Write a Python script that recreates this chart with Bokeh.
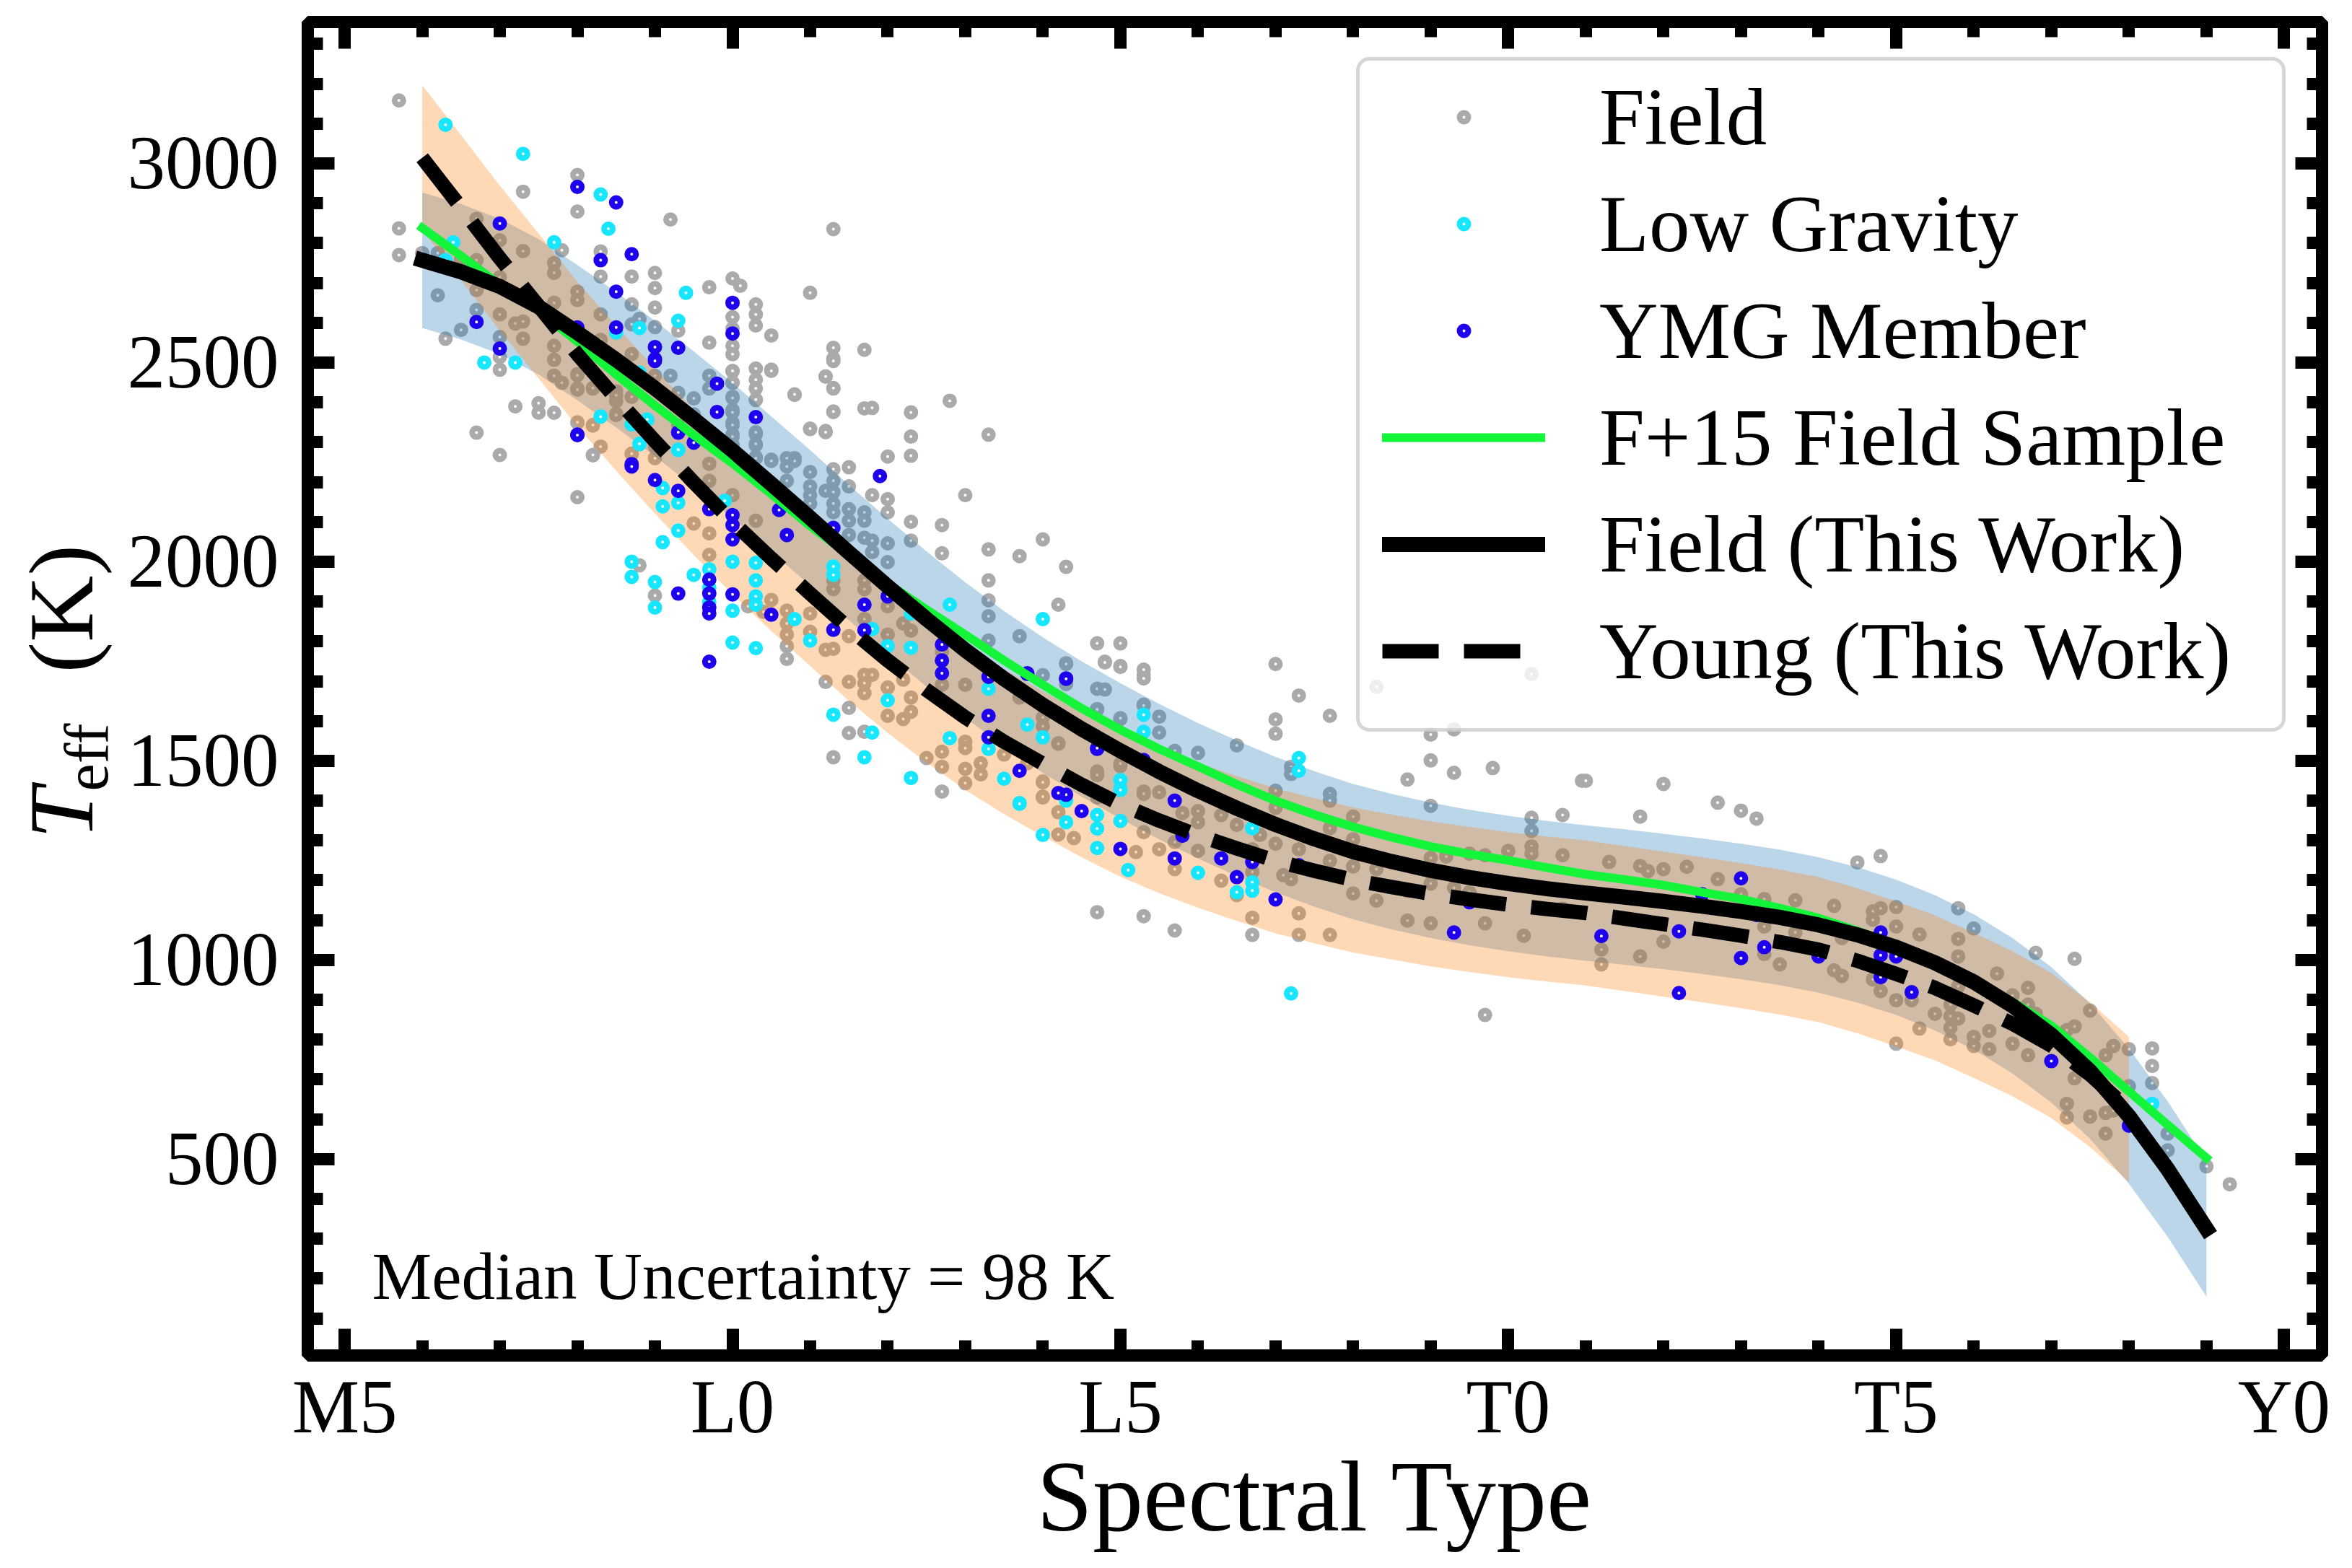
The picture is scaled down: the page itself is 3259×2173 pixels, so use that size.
from bokeh.plotting import figure
from bokeh.embed import file_html
from bokeh.resources import INLINE
from bokeh.layouts import row
from bokeh.models import (Range1d, LinearAxis, FixedTicker, Legend, LegendItem, Label, BoxAnnotation,
                          CustomJSTickFormatter)

# ---------- axes ----------
x_major = [5, 10, 15, 20, 25, 30]
x_tick_labels = ["M5", "L0", "L5", "T0", "T5", "Y0"]
x_minor = list(range(5, 31))
y_major = [500, 1000, 1500, 2000, 2500, 3000]
y_minor = list(range(100, 3400, 100))

# ---------- fitted curves ----------
curve_spt = [6, 6.5, 7, 7.5, 8, 8.5, 9, 9.5, 10, 10.5, 11, 11.5, 12, 12.5, 13, 13.5, 14, 14.5, 15, 15.5,
             16, 16.5, 17, 17.5, 18, 18.5, 19, 19.5, 20, 20.5, 21, 21.5, 22, 22.5, 23, 23.5, 24, 24.5,
             25, 25.5, 26, 26.5, 27, 27.5, 28, 28.5, 29]
field_teff = [2757, 2728, 2691, 2640, 2575, 2507, 2435, 2358, 2279, 2195, 2110, 2023, 1938, 1856, 1778, 1706,
              1640, 1580, 1525, 1473, 1425, 1381, 1340, 1304, 1272, 1247, 1225, 1207, 1192, 1179, 1168, 1158,
              1147, 1135, 1122, 1107, 1088, 1063, 1032, 993, 945, 885, 812, 721, 608, 475, 325]
f15_teff = [2838, 2768, 2695, 2630, 2553, 2470, 2392, 2318, 2247, 2170, 2090, 2017, 1945, 1880, 1817, 1752,
            1691, 1632, 1578, 1530, 1486, 1441, 1400, 1365, 1334, 1308, 1285, 1266, 1250, 1232, 1215, 1202,
            1188, 1170, 1153, 1130, 1105, 1073, 1038, 997, 950, 895, 835, 755, 670, 586, 503]
young_spt = curve_spt[:-2]
young_teff = [3014, 2889, 2762, 2642, 2521, 2410, 2303, 2199, 2100, 2008, 1920, 1833, 1752, 1678, 1609, 1548,
              1493, 1440, 1391, 1350, 1313, 1280, 1249, 1224, 1201, 1183, 1166, 1152, 1139, 1128, 1118, 1104,
              1090, 1076, 1061, 1045, 1026, 998, 965, 930, 886, 840, 785, 712, 625]
field_rms = 170
young_rms = 182

# ---------- points: (spectral type, [Teff ...]) ----------
field_points = [
    (5.7, [3158, 2837, 2770]), (6.0, [2775]), (6.2, [2775, 2669]), (6.3, [2560]), (6.5, [2582, 2757]),
    (6.7, [2861, 2757, 2682, 2632, 2324]), (7.0, [2807, 2714, 2621, 2564, 2514, 2482, 2268]),
    (7.2, [2598, 2390]), (7.3, [2929, 2780, 2603, 2560]), (7.5, [2398, 2374]),
    (7.7, [2750, 2725, 2650, 2542, 2507, 2467, 2374]), (7.8, [2782, 2449]),
    (8.0, [2971, 2879, 2678, 2657, 2471, 2435, 2349]), (8.2, [2435, 2342, 2267]),
    (8.3, [2621, 2557, 2779, 2716]), (8.5, [2428, 2403, 2371]),
    (8.7, [2716, 2646, 2596, 2521, 2414, 2270]), (8.8, [2610]),
    (9.0, [2725, 2687, 2638, 2589, 2467]), (9.2, [2859, 2467]), (9.3, [2580, 2424, 2342]),
    (9.5, [2410, 2370]), (9.7, [2689, 2550, 2467, 2435]),
    (10.0, [2711, 2614, 2585, 2542, 2521, 2478, 2449, 2414, 2381, 2349, 2320, 2292]), (10.1, [2693]),
    (10.3, [2646, 2621, 2593, 2485, 2457, 2435, 2406, 2320, 2292, 2263]), (10.5, [2568, 2482, 2256]),
    (10.8, [2419, 2260]), (11.0, [2675, 2333]), (11.2, [2465, 2328]),
    (11.3, [2835, 2537, 2510, 2435, 2376]), (11.7, [2532, 2385]),
    (10.0, [2479, 2450, 2411, 2375, 2343, 2314, 2293]), (10.3, [2407, 2325, 2296, 2260]),
    (10.5, [2479, 2253]), (10.8, [2420, 2253]), (10.7, [2260, 2239, 2203]),
    (11.0, [2334, 2225, 2189, 2167, 2146]), (11.2, [2465, 2325, 2178]),
    (11.3, [2504, 2436, 2377, 2232, 2203, 2175, 2146, 2124]),
    (11.5, [2237, 2189, 2132, 2103, 2067]), (11.7, [2124, 2103, 2060]),
    (11.8, [2386, 2167, 2053, 2024]), (12.0, [2264, 2157, 2124, 2046, 1999]),
    (12.3, [2375, 2314, 2266, 2100, 2053]), (12.7, [2092, 2021]), (12.8, [2404]), (13.0, [2167]),
    (13.3, [2319, 2031, 1953, 1903, 1863, 1802]), (13.7, [2014, 1813]), (14.0, [2056]),
    (14.3, [1987, 1745]), (14.2, [1892]), (14.7, [1795, 1681, 1630]), (14.8, [1749]),
    (15.0, [1795, 1738, 1605]), (15.3, [1716, 1641]),
    (8.0, [2468, 2432, 2162, 2350]), (8.2, [2436, 2268, 2343]), (8.5, [2418, 2368]), (8.3, [2289]),
    (8.7, [2271]), (9.0, [2260, 2289]), (9.7, [2246, 2203]), (9.5, [2096]), (9.7, [2071, 2017]),
    (10.0, [2167]), (10.3, [2103]), (8.8, [1991]), (9.0, [1915]), (10.2, [1888]), (10.5, [1904]),
    (10.4, [1874]), (10.7, [1877, 1845, 1817, 1788, 1756]), (11.0, [1870, 1824]),
    (11.2, [1779, 1698]), (11.3, [1781, 1931, 1953, 1509]), (11.5, [1813, 1698, 1633, 1570]),
    (11.7, [1716, 1695, 1670, 1573, 1856, 1931, 1953]), (11.8, [1716]),
    (12.0, [1684, 1613, 1888, 1817]), (12.2, [1704, 1605, 1845]), (12.3, [1827, 1659, 1623]),
    (12.5, [1507]), (12.7, [1523, 1485, 1423, 1691, 1774]), (13.0, [1548, 1532, 1480, 1444, 1691]),
    (13.2, [1494, 1466]), (13.5, [1516]), (13.7, [1659]), (13.8, [1494]),
    (14.0, [1448, 1408, 1609, 1587]), (14.2, [1544]), (14.7, [1473, 1408]), (15.0, [1487]), (15.3, [1423]),
    (14.8, [1747, 1679]), (15.0, [1736, 1607]), (15.3, [1729, 1707, 1639]), (14.3, [1743, 1693]),
    (14.0, [1715]), (14.7, [1629]), (15.5, [1611, 1571]), (15.7, [1525]), (16.0, [1520]), (16.5, [1539]),
    (17.0, [1743, 1604, 1568, 1425, 1382, 1292]), (17.3, [1664, 1278]),
    (17.7, [1613, 1417, 1400, 1331, 1249]), (17.2, [1485, 1467]), (19.0, [1566, 1501, 1387]),
    (18.7, [1453]), (19.3, [1579, 1470]), (19.8, [1482]), (18.3, [1686]),
    (20.3, [1718, 1357, 1324, 1285, 1267]), (20.7, [1364, 1263]), (20.95, [1450]),
    (18.0, [1360, 1303, 1235, 1167]), (18.7, [1174, 1099]), (19.0, [1256, 1092]), (19.2, [1260]),
    (19.5, [1267]), (19.7, [1263, 1092, 862]), (20.0, [1274]), (20.2, [1061]), (20.7, [1129]),
    (18.3, [1149, 1228]), (19.0, [1192]), (19.3, [1181]), (19.5, [1170]),
    (14.7, [1120]), (15.3, [1110]), (15.7, [1074]), (16.7, [1063, 1106]), (17.3, [1117, 1063]), (17.7, [1063]),
    (14.0, [1446, 1410]), (14.2, [1371, 1315, 1543]), (14.4, [1306]), (14.7, [1464]), (15.0, [1493]),
    (15.2, [1271]), (15.5, [1421, 1278]), (15.3, [1417, 1321]), (15.7, [1296, 1228]), (15.8, [1369]),
    (16.0, [1374, 1346, 1274]), (16.3, [1364, 1199]), (16.5, [1339, 1163]), (16.8, [1314]),
    (16.7, [1278, 1221]), (17.1, [1213]), (17.2, [1203]),
    (21.0, [1450]), (22.0, [1442]), (21.7, [1360]), (22.7, [1395]), (23.0, [1375]), (23.2, [1355]),
    (24.5, [1245]), (24.8, [1261]), (25.8, [1130]), (26.0, [1079]), (26.8, [1018]), (27.3, [1003]),
    (28.3, [778, 734, 691]), (28.0, [776, 683]), (29.0, [482]), (29.3, [437]), (28.5, [564, 522]),
    (21.3, [1246]), (21.7, [1236, 1009]), (21.8, [1223]), (22.0, [1228, 1046]), (22.3, [1234]), (22.7, [1203]),
    (23.0, [1165]), (23.3, [1153, 1084, 1015]), (23.5, [989]), (23.7, [1150, 1069]), (24.2, [1136, 974]),
    (24.3, [1055, 960]), (24.7, [1122, 1101, 951]), (24.8, [1130, 922]), (25.0, [1133, 1084, 899, 790]),
    (25.2, [899]), (25.3, [1064, 828]), (25.8, [1053, 1009, 934, 853]), (25.7, [888, 859, 830, 801]),
    (26.3, [966]), (26.0, [807, 784]), (26.2, [822, 776]), (26.5, [911, 790]), (26.7, [930, 888, 761, 818]),
    (26.8, [865]), (27.2, [639, 605, 824]), (27.3, [833, 703]), (27.5, [873, 607]), (27.7, [761, 564, 616]),
    (27.8, [784, 622]), (25.5, [865]), (21.2, [1026, 989]),
]
low_gravity_points = [
    (6.3, [3097, 2757]), (7.3, [3024]), (8.3, [2922]), (8.4, [2836]), (6.4, [2802]), (7.7, [2802]),
    (9.4, [2675]), (9.3, [2605, 2281]), (8.8, [2587, 2471, 2295]), (8.5, [2575]), (6.8, [2500]), (7.2, [2500]),
    (8.3, [2365]), (8.9, [2356]), (8.7, [2345]),
    (8.8, [2475, 2296]), (8.3, [2364]), (8.9, [2357]), (8.7, [2345]), (9.3, [2281, 2148, 2078]),
    (9.1, [2185, 2139, 2049]), (9.9, [2153]), (8.7, [2000, 1962]), (9.0, [1949, 1885]), (9.5, [1967]),
    (9.7, [1981, 1935, 1899]), (10.0, [2000, 1877, 1797]), (10.3, [1997, 1953, 1913, 1892, 1783]),
    (11.3, [1988, 1967, 1616]), (10.8, [1856]), (11.0, [1802]), (11.8, [1831, 1571]), (12.0, [1788, 1652]),
    (12.3, [1784, 1870, 1457]), (11.7, [1509]), (12.8, [1892, 1557]), (13.3, [1681, 1530]),
    (14.0, [1856, 1559]), (13.5, [1455]), (13.8, [1591]), (13.7, [1394]), (15.0, [1451, 1430]), (15.3, [1616, 1573]),
    (14.0, [1314]), (14.3, [1400, 1346]), (14.7, [1364, 1330, 1281]), (15.0, [1452, 1427, 1349]),
    (15.1, [1226]), (16.0, [1219]), (16.7, [1331, 1195, 1174]), (16.5, [1170]), (17.3, [1507, 1475]),
    (17.2, [916]), (13.7, [1392]), (28.3, [639]),
]
ymg_points = [
    (7.0, [2849, 2535]), (8.0, [2941, 2588, 2319, 2318]), (8.5, [2902, 2678, 2588]), (8.3, [2757]), (8.7, [2772, 2245]),
    (6.7, [2602]), (10.0, [2650, 2573]), (9.0, [2539, 2509, 2504]), (9.3, [2537, 2324, 2325, 2178, 1920]),
    (9.8, [2447, 2376]), (10.3, [2363]), (9.5, [2299]), (8.7, [2239]), (9.0, [2205]),
    (9.7, [2132, 1955, 1920, 1885, 1870, 1749]), (10.0, [2117, 2092, 2056, 1918]), (10.6, [2130]), (10.7, [2067]),
    (11.3, [2085, 1829]), (11.9, [2215]), (10.5, [1867]), (11.7, [1892, 1828]), (12.0, [1913]),
    (12.7, [1792, 1752, 1720]), (13.3, [1711, 1613, 1559]), (13.8, [1720]), (14.3, [1707, 1706, 1415]),
    (14.7, [1530, 1532]), (13.7, [1475]), (14.2, [1419]), (15.3, [1502, 1500]), (13.8, [1718]),
    (14.5, [1374]), (15.7, [1400, 1255]), (15.0, [1279]), (15.8, [1312]), (16.3, [1255]), (16.7, [1246]),
    (16.5, [1208]), (17.0, [1152]), (17.3, [1238]), (19.5, [1145]), (19.3, [1069]),
    (21.2, [1060]), (22.2, [1072, 917]), (23.0, [1205, 1005]), (22.5, [1165]), (23.2, [1113]), (23.3, [1032]),
    (24.0, [1009]), (24.8, [1069, 1012, 957]), (25.0, [1009]), (25.2, [919]), (27.0, [746]), (28.0, [584]),
]

def flatten(columns):
    xs, ys = [], []
    for s, values in columns:
        for v in values:
            xs.append(s)
            ys.append(v)
    return xs, ys

FONT = "Liberation Serif"
LABEL_W = 160
FULL_H = 2158
p = figure(frame_width=2791, frame_height=1848, output_backend="svg", toolbar_location=None,
           x_range=Range1d(4.525, 30.49), y_range=Range1d(7, 3355),
           x_axis_type=None, y_axis_type=None,
           min_border_left=426 - LABEL_W, min_border_right=30, min_border_top=30, min_border_bottom=FULL_H - 30 - 1848,
           background_fill_color="white", border_fill_color="white")
p.grid.visible = False
p.outline_line_color = "black"
p.outline_line_width = 17

def make_axis(ticks, minor, labels=True):
    ax = LinearAxis(ticker=FixedTicker(ticks=ticks, minor_ticks=minor))
    ax.axis_line_color = None
    ax.major_tick_line_color = "black"
    ax.minor_tick_line_color = "black"
    ax.major_tick_line_width = 17
    ax.minor_tick_line_width = 17
    ax.major_tick_in = 37
    ax.major_tick_out = 0
    ax.minor_tick_in = 21
    ax.minor_tick_out = 0
    ax.major_label_text_font = FONT
    ax.major_label_text_font_size = "105px"
    ax.major_label_text_color = "black"
    if not labels:
        ax.formatter = CustomJSTickFormatter(code="return ''")
        ax.major_label_text_font_size = "1px"
    return ax

bottom = make_axis(x_major, x_minor)
bottom.major_label_overrides = {k: v for k, v in zip(x_major, x_tick_labels)}
bottom.major_label_standoff = 12
bottom.axis_label = "Spectral Type"
bottom.axis_label_text_font = FONT
bottom.axis_label_text_font_size = "140px"
bottom.axis_label_text_font_style = "normal"
bottom.axis_label_text_color = "black"
bottom.axis_label_standoff = -15
p.add_layout(bottom, "below")
left = make_axis(y_major, y_minor)
left.major_label_standoff = 40
p.add_layout(left, "left")
p.add_layout(make_axis(x_major, x_minor, labels=False), "above")
p.add_layout(make_axis(y_major, y_minor, labels=False), "right")

GRAY, CYAN, BLUE = "#aaaaaa", "#16e6ff", "#1e00ee"
fx, fy = flatten(field_points)
lx, ly = flatten(low_gravity_points)
yx, yy = flatten(ymg_points)
sc_kw = dict(marker="circle", size=12, line_width=8, fill_color="white")
r_field = p.scatter(fx, fy, line_color=GRAY, **sc_kw)
p.varea(curve_spt, [v - field_rms for v in field_teff], [v + field_rms for v in field_teff],
        fill_color="#1f77b4", fill_alpha=0.3)
p.varea(young_spt, [v - young_rms for v in young_teff], [v + young_rms for v in young_teff],
        fill_color="#ff7f0e", fill_alpha=0.3)
r_low = p.scatter(lx, ly, line_color=CYAN, **sc_kw)
r_ymg = p.scatter(yx, yy, line_color=BLUE, **sc_kw)
r_f15 = p.line(curve_spt, f15_teff, line_color="#14f53a", line_width=12, line_cap="square", line_join="round")
r_fit = p.line(curve_spt, field_teff, line_color="black", line_width=21, line_cap="square", line_join="round")
r_young = p.line(young_spt, young_teff, line_color="black", line_width=20, line_dash="78 35", line_cap="butt", line_join="round")

legend_box = BoxAnnotation(left=1455, right=2738, bottom=867, top=1797,
                           left_units="screen", right_units="screen", bottom_units="screen", top_units="screen",
                           fill_color="white", fill_alpha=0.8, line_color="#cccccc", line_alpha=0.8, line_width=5,
                           border_radius=16)
p.add_layout(legend_box)

legend = Legend(items=[
    LegendItem(label="Field", renderers=[r_field]),
    LegendItem(label="Low Gravity", renderers=[r_low]),
    LegendItem(label="YMG Member", renderers=[r_ymg]),
    LegendItem(label="F+15 Field Sample", renderers=[r_f15]),
    LegendItem(label="Field (This Work)", renderers=[r_fit]),
    LegendItem(label="Young (This Work)", renderers=[r_young]),
], location=(1489, 911))
legend.glyph_width = 226
legend.glyph_height = 30
legend.label_standoff = 75
legend.padding = 24
legend.spacing = 18
legend.margin = 0
legend.label_text_font = FONT
legend.label_text_font_size = "113px"
legend.label_text_color = "black"
legend.border_line_color = None
legend.background_fill_color = None
p.add_layout(legend, "center")

p.add_layout(Label(x=89, y=110, x_units="screen", y_units="screen", text="Median Uncertainty = 98 K",
                   text_font=FONT, text_font_size="93px", text_color="black", text_baseline="alphabetic"))

# y-axis title: a narrow strip to the left of the main figure, in page pixels
strip = figure(frame_width=LABEL_W, frame_height=FULL_H, output_backend="svg", toolbar_location=None,
               x_range=Range1d(0, LABEL_W), y_range=Range1d(0, FULL_H), x_axis_type=None, y_axis_type=None,
               min_border=0, outline_line_color=None, background_fill_color="white", border_fill_color="white")
strip.grid.visible = False

def ylabel(text, x, page_y, size, **kw):
    strip.add_layout(Label(x=x, y=FULL_H - page_y, x_units="screen", y_units="screen", text=text, text_font=FONT,
                           text_font_size=size, text_color="black", angle=90, angle_units="deg",
                           text_baseline="alphabetic", text_align="left", **kw))

ylabel("T", 84, 1132, "128px", text_font_style="italic")
ylabel("eff", 119, 1066, "86px")
ylabel("(K)", 84, 902, "128px")

open("out.html", "w").write(file_html(row(strip, p, spacing=0), INLINE))
